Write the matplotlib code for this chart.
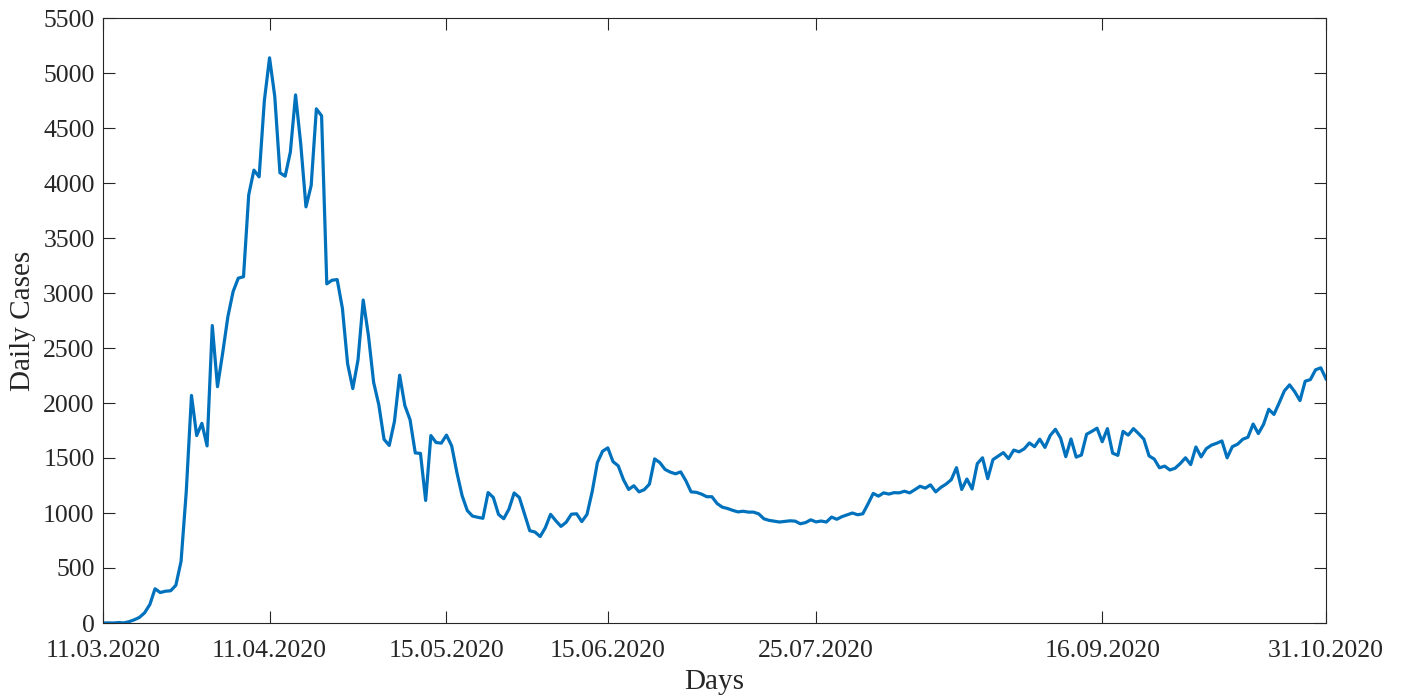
import numpy as np
import matplotlib
matplotlib.use("Agg")
import matplotlib.pyplot as plt

# daily cases, one value per day (first value is the day before 11.03)
mart = [0, 1, 0, 4, 1, 12, 29, 51, 93, 168, 311, 277, 289, 293, 343, 561,
        1196, 2069, 1704, 1815, 1610, 2704]
nisan = [2148, 2456, 2786, 3013, 3135, 3148, 3892, 4117, 4056, 4747,
         5138, 4789, 4093, 4062, 4281, 4801, 4353, 3783, 3977, 4674,
         4611, 3083, 3116, 3122, 2861, 2357, 2131, 2392, 2936, 2615]
mayis = [2188, 1983, 1670, 1614, 1832, 2253, 1977, 1848, 1546, 1542,
         1114, 1704, 1641, 1635, 1708, 1610, 1368, 1158, 1022, 972,
         961, 952, 1186, 1141, 987, 948, 1035, 1182, 1141, 991, 839]
haziran = [827, 786, 867, 988, 930, 878, 916, 989, 993, 922,
           987, 1195, 1459, 1562, 1592, 1467, 1429, 1304, 1214, 1248,
           1192, 1212, 1263, 1492, 1458, 1396, 1372, 1356, 1374, 1293]
temmuz = [1192, 1188, 1172, 1148, 1148, 1086, 1053, 1041, 1024, 1010,
          1016, 1008, 1008, 992, 947, 933, 926, 918, 924, 929,
          926, 902, 913, 938, 919, 927, 918, 963, 943, 967, 983]
agustos = [1000, 984, 993, 1083, 1178, 1153, 1183, 1172, 1185, 1183,
           1198, 1183, 1212, 1243, 1226, 1256, 1192, 1233, 1263, 1303,
           1412, 1214, 1309, 1218, 1449, 1502, 1312, 1485, 1517, 1549, 1494]
eylul = [1572, 1556, 1583, 1637, 1603, 1671, 1596, 1704, 1761, 1681,
         1512, 1673, 1508, 1527, 1716, 1742, 1771, 1648, 1767, 1544,
         1524, 1742, 1708, 1767, 1721, 1671, 1519, 1490, 1411, 1426]
ekim = [1391, 1407, 1450, 1502, 1440, 1600, 1510, 1585, 1617, 1634,
        1655, 1502, 1603, 1625, 1670, 1689, 1809, 1722, 1806, 1943,
        1896, 2001, 2110, 2165, 2102, 2022, 2198, 2213, 2302, 2320, 2220]

cases = np.array(mart + nisan + mayis + haziran + temmuz + agustos + eylul + ekim)
days = np.arange(len(cases))

tick_days = [0, 32, 66, 97, 137, 192, 235]
tick_labels = ['11.03.2020', '11.04.2020', '15.05.2020', '15.06.2020',
               '25.07.2020', '16.09.2020', '31.10.2020']

plt.rcParams['font.family'] = ['Liberation Serif', 'DejaVu Serif']

fig = plt.figure(figsize=(14.06, 6.96), dpi=100)
ax = fig.add_axes([103/1406, 73/696, 1223/1406, 605/696])

ax.plot(days, cases, color='#0072BD', linewidth=2.3)

ax.set_xlim(0, 235)
ax.set_ylim(0, 5500)
ax.set_xticks(tick_days)
ax.set_xticklabels(tick_labels)
ax.set_yticks(np.arange(0, 5501, 500))

ax.tick_params(direction='in', length=8.5, width=0.8, top=True, right=True,
               colors='#262626', labelsize=18.5)
ax.tick_params(axis='x', pad=12)
ax.tick_params(axis='y', pad=6)
for s in ax.spines.values():
    s.set_color('#262626')
    s.set_linewidth(0.8)

ax.set_xlabel('Days', fontsize=21, color='#262626', labelpad=5)
ax.set_ylabel('Daily Cases', fontsize=21, color='#262626', labelpad=5)

fig.savefig('out.png', dpi=100)
